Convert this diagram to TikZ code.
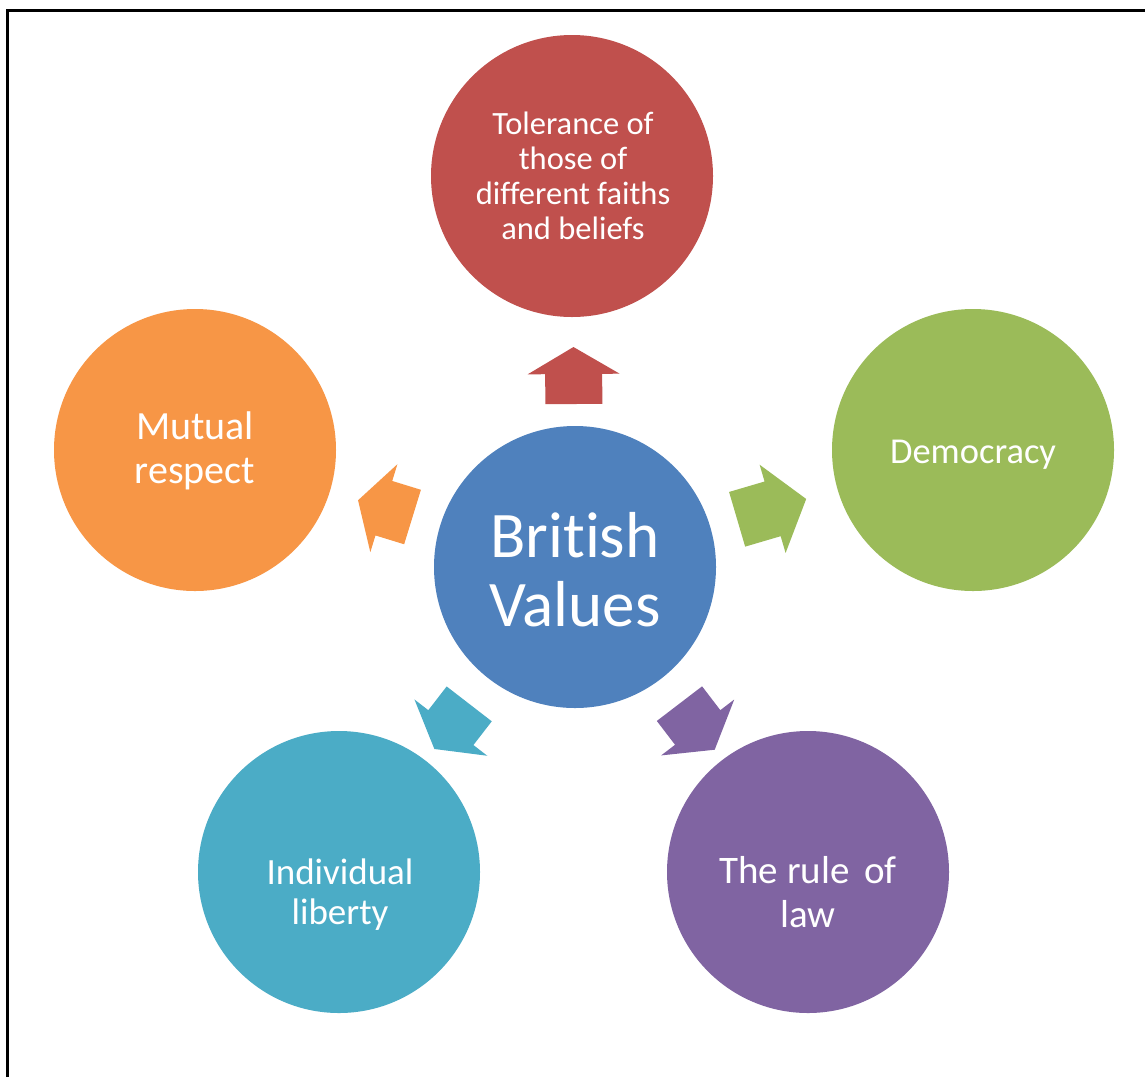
\documentclass[tikz,border=0pt]{standalone}
\usepackage{fontspec}
\setmainfont{Carlito}[Ligatures=NoCommon]
\definecolor{bvred}{HTML}{C0504D}
\definecolor{bvgreen}{HTML}{9BBB59}
\definecolor{bvorange}{HTML}{F79646}
\definecolor{bvblue}{HTML}{4F81BD}
\definecolor{bvteal}{HTML}{4BACC6}
\definecolor{bvpurple}{HTML}{8064A2}
\newcommand\bvarrow[5]{%
  \fill[#2,shift={(hub.center)},rotate=#1]
    (#3,-28.5) -- ({#3+#4},-28.5) -- ({#3+#4},-46) -- ({#3+#4+#5},0)
    -- ({#3+#4},46) -- ({#3+#4},28.5) -- (#3,28.5) -- cycle;}
\begin{document}
\begin{tikzpicture}[x=1pt,y=-1pt,
  val/.style={circle,minimum size=282pt,inner sep=0pt,text=white,align=center},
  txt/.style={text=white,align=center,inner sep=0pt}]
\useasboundingbox (0,0) rectangle (1145,1077);
\fill[white] (0,0) rectangle (1145,1077);
% frame (top and left edges)
\draw[line width=3pt] (7.5,1077) -- (7.5,10.5) -- (1145,10.5);
% circles
\node[val,fill=bvblue]   (hub)  at (575,567) {};
\node[val,fill=bvred]    (tol)  at (572,176) {};
\node[val,fill=bvgreen]  (dem)  at (973,450) {};
\node[val,fill=bvorange] (mut)  at (195,450) {};
\node[val,fill=bvteal]   (ind)  at (339,872) {};
\node[val,fill=bvpurple] (law)  at (808,872) {};
% texts
\node[txt,font=\fontsize{65}{69}\selectfont] (hubt) at (575,570) {British\\Values};
\node[txt,font=\fontsize{32.5}{35}\selectfont] (tolt) at (573,176) {Tolerance of\\those of\\different faiths\\and beliefs};
\node[txt,font=\fontsize{36.5}{40}\selectfont] (demt) at (973,455) {Democracy};
\node[txt,font=\fontsize{40}{44}\selectfont] (mutt) at (195,451) {Mutual\\respect};
\node[txt,font=\fontsize{37}{40}\selectfont] (indt) at (340,895) {Individual\\liberty};
\node[txt,font=\fontsize{39}{44}\selectfont] (lawt) at (808,892) {The rule\hspace{0.15em} of\\law};
% arrows
\bvarrow{90.4}{bvred}{163}{30}{27}
\bvarrow{16.4}{bvgreen}{169}{37}{35}
\bvarrow{162.9}{bvorange}{170}{30}{27}
\bvarrow{232.3}{bvteal}{173}{30}{27}
\bvarrow{-52.6}{bvpurple}{172}{30}{28}
\end{tikzpicture}
\end{document}
